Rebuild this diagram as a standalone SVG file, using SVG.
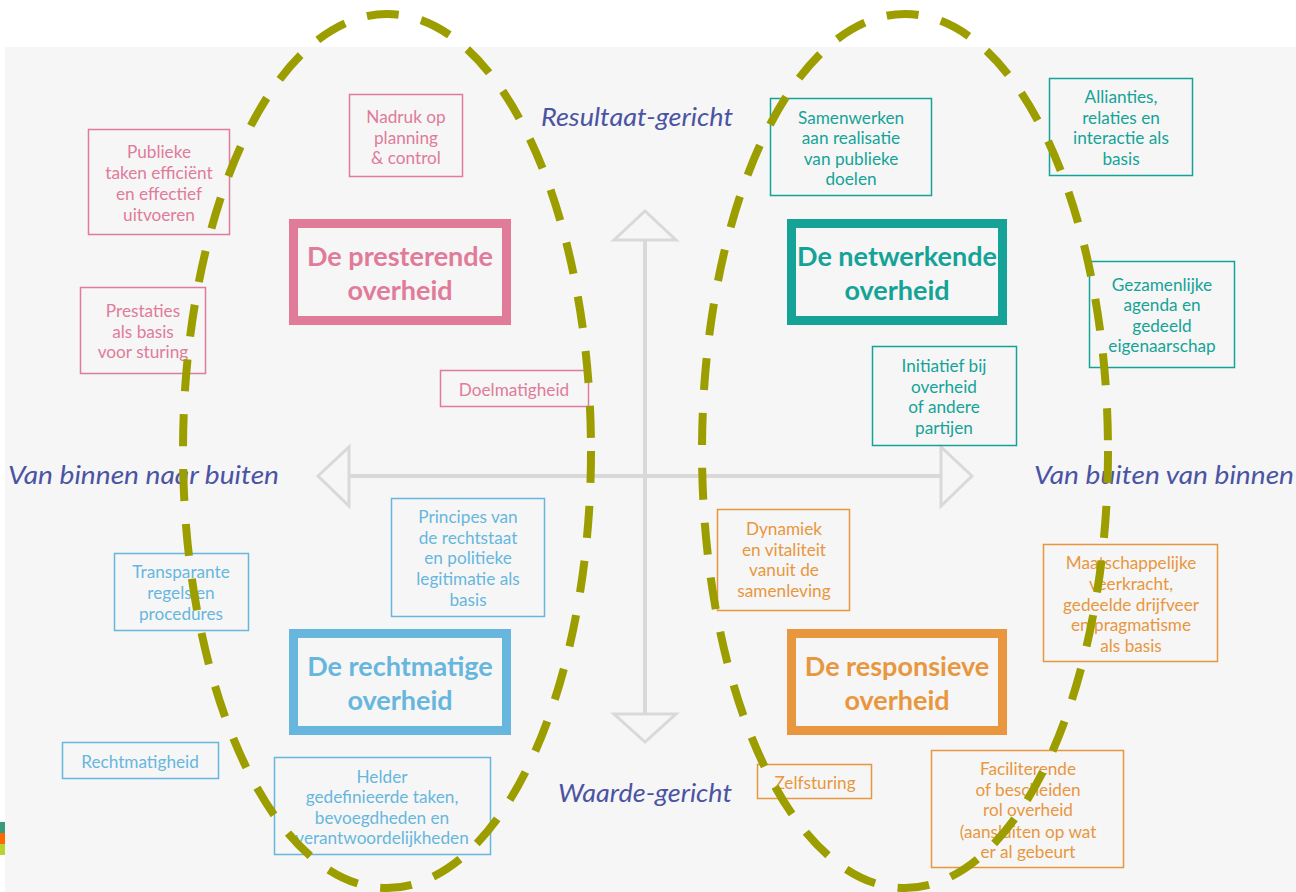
<svg xmlns="http://www.w3.org/2000/svg" width="1296" height="892" viewBox="0 0 1296 892">
<defs>
<style>
.box{fill:none;stroke-width:1.5}
.main{fill:none;stroke-width:9}
.t{font-family:Lato,"Open Sans","Liberation Sans",sans-serif;font-size:17.2px;text-anchor:middle}
.mt{font-family:Lato,"Open Sans","Liberation Sans",sans-serif;font-size:27px;font-weight:bold;text-anchor:middle}
.ax{font-family:Lato,"Liberation Sans",sans-serif;font-style:italic;font-size:26px;fill:#4b54a3}
.pink{stroke:#e07b9a}.pinkf{fill:#e07b9a}
.teal{stroke:#15a398}.tealf{fill:#15a398}
.blue{stroke:#67b6de}.bluef{fill:#67b6de}
.orng{stroke:#e8973f}.orngf{fill:#e8973f}
.arrow{fill:none;stroke:#d9d9d9;stroke-width:3}
.shaft{stroke:#d9d9d9;stroke-width:4}
.oval{fill:none;stroke:#9c9e00;stroke-width:8;stroke-dasharray:32 23}
</style>
</defs>
<rect x="0" y="0" width="1296" height="892" fill="#ffffff"/>
<rect x="5" y="47" width="1291" height="845" fill="#f6f6f6"/>
<rect x="0" y="822" width="5" height="11" fill="#3a9a7c"/>
<rect x="0" y="833" width="5" height="11" fill="#ff6a00"/>
<rect x="0" y="844" width="5" height="11" fill="#b6d530"/>

<g id="connectors">
<line class="shaft" x1="645" y1="240" x2="645" y2="714"/>
<line class="shaft" x1="349" y1="476" x2="941" y2="476"/>
<polygon class="arrow" points="645,211 614,240 676,240"/>
<polygon class="arrow" points="645,742 614,714 676,714"/>
<polygon class="arrow" points="318,476 349,447 349,506"/>
<polygon class="arrow" points="972,476 941,447 941,506"/>
</g>

<g id="axis-labels">
<text class="ax" x="541" y="126" textLength="192" lengthAdjust="spacingAndGlyphs">Resultaat-gericht</text>
<text class="ax" x="8" y="484" textLength="271" lengthAdjust="spacingAndGlyphs">Van binnen naar buiten</text>
<text class="ax" x="1034" y="484" textLength="260" lengthAdjust="spacingAndGlyphs">Van buiten van binnen</text>
<text class="ax" x="558" y="802" textLength="174" lengthAdjust="spacingAndGlyphs">Waarde-gericht</text>
</g>

<g id="presterende">
<rect class="main pink" x="293.5" y="223.5" width="213" height="97"/>
<text class="mt pinkf" x="400" y="266">De presterende</text>
<text class="mt pinkf" x="400" y="300">overheid</text>
</g>
<g id="publieke-taken">
<rect class="box pink" x="88.5" y="129.5" width="141" height="105"/>
<text class="t pinkf" x="159" y="158">Publieke</text>
<text class="t pinkf" x="159" y="179">taken efficiënt</text>
<text class="t pinkf" x="159" y="200">en effectief</text>
<text class="t pinkf" x="159" y="221">uitvoeren</text>
</g>
<g id="nadruk">
<rect class="box pink" x="349.5" y="94.5" width="113" height="82"/>
<text class="t pinkf" x="406" y="123">Nadruk op</text>
<text class="t pinkf" x="406" y="144">planning</text>
<text class="t pinkf" x="406" y="164">&amp; control</text>
</g>
<g id="prestaties">
<rect class="box pink" x="80.5" y="287.5" width="125" height="86"/>
<text class="t pinkf" x="143" y="317">Prestaties</text>
<text class="t pinkf" x="143" y="338">als basis</text>
<text class="t pinkf" x="143" y="358">voor sturing</text>
</g>
<g id="doelmatigheid">
<rect class="box pink" x="440.5" y="370.5" width="148" height="36"/>
<text class="t pinkf" x="514" y="396">Doelmatigheid</text>
</g>

<g id="netwerkende">
<rect class="main teal" x="791.5" y="223.5" width="211" height="97"/>
<text class="mt tealf" x="897" y="266">De netwerkende</text>
<text class="mt tealf" x="897" y="300">overheid</text>
</g>
<g id="samenwerken">
<rect class="box teal" x="770.5" y="98.5" width="161" height="97"/>
<text class="t tealf" x="851" y="124">Samenwerken</text>
<text class="t tealf" x="851" y="144">aan realisatie</text>
<text class="t tealf" x="851" y="165">van publieke</text>
<text class="t tealf" x="851" y="185">doelen</text>
</g>
<g id="allianties">
<rect class="box teal" x="1049.5" y="78.5" width="143" height="97"/>
<text class="t tealf" x="1121" y="103">Allianties,</text>
<text class="t tealf" x="1121" y="124">relaties en</text>
<text class="t tealf" x="1121" y="144">interactie als</text>
<text class="t tealf" x="1121" y="165">basis</text>
</g>
<g id="gezamenlijke">
<rect class="box teal" x="1089.5" y="261.5" width="145" height="106"/>
<text class="t tealf" x="1162" y="291">Gezamenlijke</text>
<text class="t tealf" x="1162" y="311">agenda en</text>
<text class="t tealf" x="1162" y="332">gedeeld</text>
<text class="t tealf" x="1162" y="352">eigenaarschap</text>
</g>
<g id="initiatief">
<rect class="box teal" x="872.5" y="346.5" width="144" height="99"/>
<text class="t tealf" x="944" y="372">Initiatief bij</text>
<text class="t tealf" x="944" y="393">overheid</text>
<text class="t tealf" x="944" y="413">of andere</text>
<text class="t tealf" x="944" y="434">partijen</text>
</g>

<g id="rechtmatige">
<rect class="main blue" x="293.5" y="633.5" width="213" height="97"/>
<text class="mt bluef" x="400" y="676">De rechtmatige</text>
<text class="mt bluef" x="400" y="710">overheid</text>
</g>
<g id="principes">
<rect class="box blue" x="391.5" y="498.5" width="153" height="118"/>
<text class="t bluef" x="468" y="523">Principes van</text>
<text class="t bluef" x="468" y="544">de rechtstaat</text>
<text class="t bluef" x="468" y="564">en politieke</text>
<text class="t bluef" x="468" y="585">legitimatie als</text>
<text class="t bluef" x="468" y="606">basis</text>
</g>
<g id="transparante">
<rect class="box blue" x="114.5" y="553.5" width="134" height="77"/>
<text class="t bluef" x="181" y="578">Transparante</text>
<text class="t bluef" x="181" y="599">regels en</text>
<text class="t bluef" x="181" y="620">procedures</text>
</g>
<g id="rechtmatigheid">
<rect class="box blue" x="62.5" y="742.5" width="156" height="36"/>
<text class="t bluef" x="140" y="768">Rechtmatigheid</text>
</g>
<g id="helder">
<rect class="box blue" x="274.5" y="757.5" width="216" height="97"/>
<text class="t bluef" x="382" y="783">Helder</text>
<text class="t bluef" x="382" y="803">gedefinieerde taken,</text>
<text class="t bluef" x="382" y="824">bevoegdheden en</text>
<text class="t bluef" x="382" y="844">verantwoordelijkheden</text>
</g>

<g id="responsieve">
<rect class="main orng" x="791.5" y="633.5" width="211" height="97"/>
<text class="mt orngf" x="897" y="676">De responsieve</text>
<text class="mt orngf" x="897" y="710">overheid</text>
</g>
<g id="dynamiek">
<rect class="box orng" x="717.5" y="509.5" width="132" height="101"/>
<text class="t orngf" x="784" y="535">Dynamiek</text>
<text class="t orngf" x="784" y="556">en vitaliteit</text>
<text class="t orngf" x="784" y="576">vanuit de</text>
<text class="t orngf" x="784" y="597">samenleving</text>
</g>
<g id="maatschappelijke">
<rect class="box orng" x="1043.5" y="544.5" width="174" height="117"/>
<text class="t orngf" x="1131" y="569">Maatschappelijke</text>
<text class="t orngf" x="1131" y="590">veerkracht,</text>
<text class="t orngf" x="1131" y="611">gedeelde drijfveer</text>
<text class="t orngf" x="1131" y="631">en pragmatisme</text>
<text class="t orngf" x="1131" y="652">als basis</text>
</g>
<g id="zelfsturing">
<rect class="box orng" x="757.5" y="764.5" width="114" height="34"/>
<text class="t orngf" x="815" y="789">Zelfsturing</text>
</g>
<g id="faciliterende">
<rect class="box orng" x="931.5" y="750.5" width="192" height="117"/>
<text class="t orngf" x="1028" y="775">Faciliterende</text>
<text class="t orngf" x="1028" y="796">of bescheiden</text>
<text class="t orngf" x="1028" y="816">rol overheid</text>
<text class="t orngf" x="1028" y="838">(aansluiten op wat</text>
<text class="t orngf" x="1028" y="858">er al gebeurt</text>
</g>

<g id="highlights">
<ellipse class="oval" cx="387" cy="451" rx="204" ry="437"/>
<ellipse class="oval" cx="905" cy="451" rx="203" ry="437"/>
</g>
</svg>
